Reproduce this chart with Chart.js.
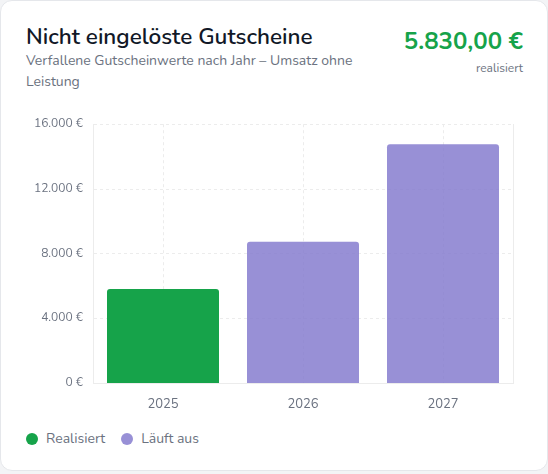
<!DOCTYPE html>
<html>
<head>
<meta charset="utf-8">
<script src="https://cdn.jsdelivr.net/npm/chart.js@4.4.1/dist/chart.umd.min.js"></script>
<style>
  html, body { margin:0; padding:0; background:#f3f4f6; }
  body { width:548px; height:474px; position:relative; overflow:hidden; font-family: Nunito, Lato, "Noto Sans", sans-serif; }
  .card { position:absolute; left:0; top:0; width:546px; height:469px; background:#fff; border:1px solid #e5e7eb; border-radius:12px; }
  .title { position:absolute; left:25px; top:22px; font-size:22.5px; font-weight:600; color:#111827; margin:0; line-height:28px; }
  .sub { position:absolute; left:25px; top:49px; width:340px; font-size:14px; color:#6b7280; line-height:21px; }
  .kpi { position:absolute; right:24px; top:25px; font-size:24px; font-weight:700; color:#16a34a; line-height:30px; text-align:right; }
  .kpi-sub { position:absolute; right:24px; top:59px; font-size:12px; color:#6b7280; text-align:right; }
  .plot { position:absolute; left:25px; top:106px; width:488px; height:320px; }
  .legend { position:absolute; left:25px; top:428px; font-size:14px; color:#6b7280; display:flex; gap:16px; line-height:20px; }
  .legend span { display:flex; align-items:center; }
  .legend i { display:inline-block; width:12px; height:12px; border-radius:50%; margin-right:8px; }
</style>
</head>
<body>
<div class="card">
  <div class="title">Nicht eingelöste Gutscheine</div>
  <div class="sub">Verfallene Gutscheinwerte nach Jahr – Umsatz ohne Leistung</div>
  <div class="kpi">5.830,00 €</div>
  <div class="kpi-sub">realisiert</div>
  <div class="plot"><canvas id="c"></canvas></div>
  <div class="legend" id="legend"></div>
</div>
<script>
const years = ['2025', '2026', '2027'];
const realisiert = [5830, 0, 0];
const laeuftAus = [0, 8740, 14760];
const yTicks = [0, 4000, 8000, 12000, 16000];

const green = '#16a34a';
const purple = 'rgba(134,124,207,0.85)';
const gridColor = '#ececec';

function euro(v) {
  return v.toLocaleString('de-DE') + ' €';
}

const chart = new Chart(document.getElementById('c'), {
  type: 'bar',
  data: {
    labels: years,
    datasets: [
      { label: 'Realisiert', data: realisiert, backgroundColor: green, borderRadius: 3, borderSkipped: 'bottom' },
      { label: 'Läuft aus', data: laeuftAus, backgroundColor: purple, borderRadius: 3, borderSkipped: 'bottom' }
    ]
  },
  options: {
    responsive: true,
    maintainAspectRatio: false,
    animation: false,
    layout: { padding: { top: 5, right: 1 } },
    plugins: { legend: { display: false }, tooltip: { enabled: false } },
    datasets: { bar: { categoryPercentage: 0.8, barPercentage: 1 } },
    scales: {
      x: {
        stacked: true,
        grid: { offset: false, color: gridColor, drawTicks: false },
        border: { display: true, dash: [3, 3], color: gridColor },
        ticks: { color: '#6b7280', font: { family: 'Nunito, Lato, sans-serif', size: 13 }, padding: 14 }
      },
      y: {
        stacked: true,
        min: 0, max: 16000,
        afterBuildTicks: s => { s.ticks = yTicks.map(v => ({ value: v })); },
        afterFit: s => { s.width = 67; },
        grid: { color: gridColor, drawTicks: false },
        border: { display: true, dash: [3, 3], color: gridColor },
        ticks: { color: '#6b7280', font: { family: 'Nunito, Lato, sans-serif', size: 12 }, padding: 10, callback: v => euro(v) }
      },
      y1: {
        position: 'right',
        min: 0, max: 16000,
        grid: { display: false, drawTicks: false },
        border: { display: true, dash: [3, 3], color: gridColor },
        ticks: { display: false }
      }
    }
  }
});

// simple html legend from dataset labels and colours
const lg = document.getElementById('legend');
chart.data.datasets.forEach(ds => {
  const s = document.createElement('span');
  s.innerHTML = '<i style="background:' + ds.backgroundColor + '"></i>' + ds.label;
  lg.appendChild(s);
});
</script>
</body>
</html>
